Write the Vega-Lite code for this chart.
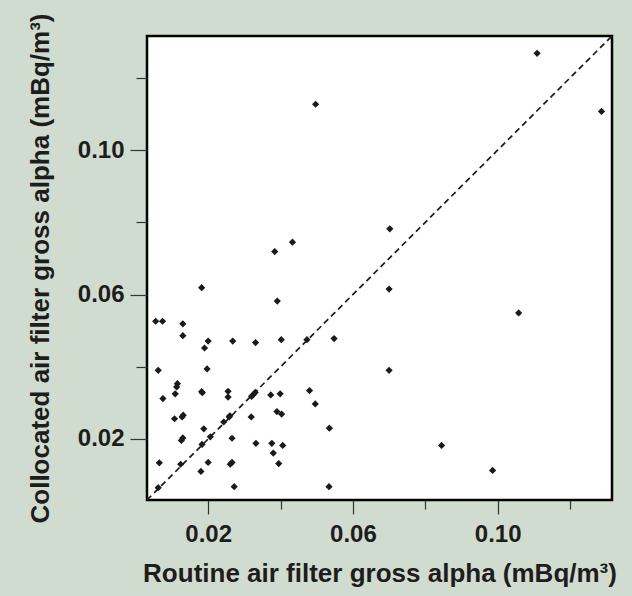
{
  "$schema": "https://vega.github.io/schema/vega-lite/v6.json",
  "width": 465,
  "height": 464,
  "autosize": {"type": "none"},
  "padding": {"left": 147, "top": 36, "right": 20, "bottom": 96},
  "background": "#cfdccf",
  "config": {
    "view": {"fill": "white", "stroke": "black", "strokeWidth": 2.5},
    "font": "Liberation Sans",
    "axis": {
      "domain": false,
      "grid": false,
      "ticks": true,
      "tickColor": "#333333",
      "tickWidth": 1.2,
      "labelFont": "Liberation Sans",
      "labelFontWeight": "bold",
      "labelFontSize": 24,
      "labelColor": "#1f1c1d",
      "titleFont": "Liberation Sans",
      "titleFontWeight": "bold",
      "titleFontSize": 26,
      "titleColor": "#1f1c1d"
    }
  },
  "datasets": {
    "pts": [
      {"routine": 0.1109, "collocated": 0.1268},
      {"routine": 0.0497, "collocated": 0.1127},
      {"routine": 0.1287, "collocated": 0.1107},
      {"routine": 0.0702, "collocated": 0.0782},
      {"routine": 0.0433, "collocated": 0.0745},
      {"routine": 0.0384, "collocated": 0.0719},
      {"routine": 0.0182, "collocated": 0.0619},
      {"routine": 0.0700, "collocated": 0.0615},
      {"routine": 0.0391, "collocated": 0.0582},
      {"routine": 0.1058, "collocated": 0.0549},
      {"routine": 0.0055, "collocated": 0.0526},
      {"routine": 0.0074, "collocated": 0.0526},
      {"routine": 0.0130, "collocated": 0.0519},
      {"routine": 0.0130, "collocated": 0.0486},
      {"routine": 0.0200, "collocated": 0.0471},
      {"routine": 0.0190, "collocated": 0.0452},
      {"routine": 0.0268, "collocated": 0.0471},
      {"routine": 0.0331, "collocated": 0.0467},
      {"routine": 0.0402, "collocated": 0.0475},
      {"routine": 0.0473, "collocated": 0.0475},
      {"routine": 0.0548, "collocated": 0.0478},
      {"routine": 0.0062, "collocated": 0.0390},
      {"routine": 0.0197, "collocated": 0.0394},
      {"routine": 0.0700, "collocated": 0.0390},
      {"routine": 0.0115, "collocated": 0.0353},
      {"routine": 0.0113, "collocated": 0.0344},
      {"routine": 0.0109, "collocated": 0.0325},
      {"routine": 0.0075, "collocated": 0.0312},
      {"routine": 0.0182, "collocated": 0.0331},
      {"routine": 0.0184, "collocated": 0.0328},
      {"routine": 0.0255, "collocated": 0.0332},
      {"routine": 0.0255, "collocated": 0.0316},
      {"routine": 0.0320, "collocated": 0.0318},
      {"routine": 0.0325, "collocated": 0.0323},
      {"routine": 0.0330, "collocated": 0.0329},
      {"routine": 0.0373, "collocated": 0.0322},
      {"routine": 0.0399, "collocated": 0.0325},
      {"routine": 0.0480, "collocated": 0.0334},
      {"routine": 0.0496, "collocated": 0.0297},
      {"routine": 0.0107, "collocated": 0.0256},
      {"routine": 0.0131, "collocated": 0.0266},
      {"routine": 0.0128, "collocated": 0.0261},
      {"routine": 0.0188, "collocated": 0.0228},
      {"routine": 0.0260, "collocated": 0.0264},
      {"routine": 0.0258, "collocated": 0.0261},
      {"routine": 0.0243, "collocated": 0.0247},
      {"routine": 0.0319, "collocated": 0.0261},
      {"routine": 0.0390, "collocated": 0.0276},
      {"routine": 0.0403, "collocated": 0.0269},
      {"routine": 0.0535, "collocated": 0.0230},
      {"routine": 0.0130, "collocated": 0.0203},
      {"routine": 0.0126, "collocated": 0.0196},
      {"routine": 0.0183, "collocated": 0.0185},
      {"routine": 0.0206, "collocated": 0.0206},
      {"routine": 0.0266, "collocated": 0.0202},
      {"routine": 0.0332, "collocated": 0.0188},
      {"routine": 0.0376, "collocated": 0.0188},
      {"routine": 0.0406, "collocated": 0.0182},
      {"routine": 0.0380, "collocated": 0.0161},
      {"routine": 0.0845, "collocated": 0.0182},
      {"routine": 0.0395, "collocated": 0.0132},
      {"routine": 0.0065, "collocated": 0.0134},
      {"routine": 0.0124, "collocated": 0.0130},
      {"routine": 0.0200, "collocated": 0.0135},
      {"routine": 0.0180, "collocated": 0.0110},
      {"routine": 0.0266, "collocated": 0.0135},
      {"routine": 0.0261, "collocated": 0.0130},
      {"routine": 0.0986, "collocated": 0.0113},
      {"routine": 0.0062, "collocated": 0.0065},
      {"routine": 0.0272, "collocated": 0.0068},
      {"routine": 0.0534, "collocated": 0.0068}
    ],
    "diag": [
      {"routine": 0.0031, "collocated": 0.0031},
      {"routine": 0.1316, "collocated": 0.1316}
    ]
  },
  "layer": [
    {
      "data": {"name": "diag"},
      "mark": {"type": "line", "color": "#1a1a1a", "strokeWidth": 1.7, "strokeDash": [6, 4], "clip": true},
      "encoding": {
        "x": {"field": "routine", "type": "quantitative"},
        "y": {"field": "collocated", "type": "quantitative"}
      }
    },
    {
      "data": {"name": "pts"},
      "mark": {"type": "point", "shape": "diamond", "filled": true, "color": "#1a1a1a", "size": 52, "opacity": 1},
      "encoding": {
        "x": {
          "field": "routine",
          "type": "quantitative",
          "scale": {"domain": [0.0031, 0.1316], "zero": false, "nice": false},
          "axis": {
            "title": "Routine air filter gross alpha (mBq/m³)",
            "values": [0.02, 0.04, 0.06, 0.08, 0.10, 0.12],
            "labelExpr": "round(datum.value*100) % 4 == 2 ? format(datum.value, '.2f') : ''",
            "tickSize": {"condition": {"test": "round(datum.value*100) % 4 == 2", "value": 14}, "value": 9},
            "labelPadding": 8,
            "titlePadding": 14,
            "labelFlush": false,
            "labelOverlap": false
          }
        },
        "y": {
          "field": "collocated",
          "type": "quantitative",
          "scale": {"domain": [0.0031, 0.1316], "zero": false, "nice": false},
          "axis": {
            "title": "Collocated air filter gross alpha (mBq/m³)",
            "values": [0.02, 0.04, 0.06, 0.08, 0.10, 0.12],
            "labelExpr": "round(datum.value*100) % 4 == 2 ? format(datum.value, '.2f') : ''",
            "tickSize": {"condition": {"test": "round(datum.value*100) % 4 == 2", "value": 17}, "value": 11},
            "labelPadding": 6,
            "titlePadding": 24,
            "labelFlush": false,
            "labelOverlap": false
          }
        }
      }
    }
  ]
}
